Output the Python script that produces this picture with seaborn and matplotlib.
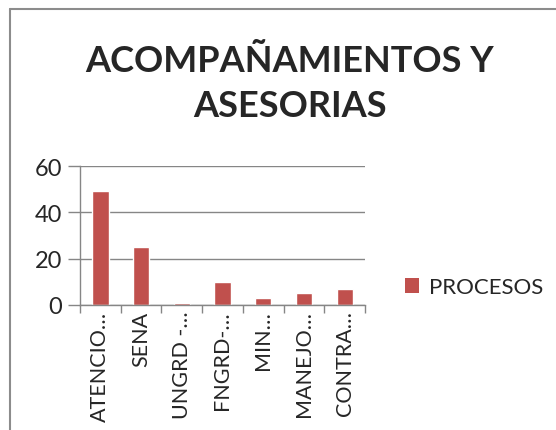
import matplotlib
matplotlib.use("Agg")
import matplotlib.pyplot as plt
import seaborn as sns
import pandas as pd
from matplotlib.patches import Patch
from matplotlib.lines import Line2D

categories = ["ATENCIO…", "SENA", "UNGRD -…", "FNGRD-…", "MIN…", "MANEJO…", "CONTRA…"]
values = [49, 25, 1, 10, 3, 5, 7]
series_name = "PROCESOS"
title = "ACOMPAÑAMIENTOS Y\nASESORIAS"
yticks = [0, 20, 40, 60]

sns.set_theme(style="white")
plt.rcParams['font.family'] = ['Lato', 'DejaVu Sans']

df = pd.DataFrame({"cat": categories, "val": values})

fig = plt.figure(figsize=(5.56, 4.31), dpi=100)
ax = fig.add_axes([80/556, 1-306/431, 285/556, (306-167)/431])
sns.barplot(data=df, x="cat", y="val", color="#C0504D", width=0.4, saturation=1, ax=ax)

grid_c = "#868686"
ax.set_ylim(0, 60)
ax.set_xlim(-0.5, len(categories) - 0.5)
ax.set_yticks(yticks)
ax.yaxis.grid(True, color=grid_c, linewidth=1)
ax.set_axisbelow(True)
for s in ["top", "right"]:
    ax.spines[s].set_visible(False)
for s in ["left", "bottom"]:
    ax.spines[s].set_color(grid_c)
    ax.spines[s].set_linewidth(1)

ax.set_xticks([i - 0.5 for i in range(len(categories) + 1)])
ax.set_xticklabels([])
ax.set_xticks(range(len(categories)), minor=True)
ax.set_xticklabels(categories, minor=True, rotation=90, fontsize=15.5)
ax.tick_params(axis="x", which="major", length=6, color=grid_c, width=1, direction="out", bottom=True)
ax.tick_params(axis="x", which="minor", length=0, pad=4)
ax.tick_params(axis="y", length=9, color=grid_c, width=1, direction="out", left=True, labelsize=17, pad=4)
ax.set_xlabel("")
ax.set_ylabel("")

fig.text(290/556, 1-84/431, title, ha="center", va="center", fontsize=26, fontweight="bold",
         linespacing=1.45)

handles = [Patch(facecolor="#C0504D", edgecolor="none", label=series_name)]
fig.legend(handles=handles, loc="center left", bbox_to_anchor=(398/556, 1-288/431),
           frameon=False, fontsize=16, handlelength=0.65, handleheight=0.65, handletextpad=0.45,
           borderaxespad=0, borderpad=0.3)

# chart border (top and left edges visible)
fig.add_artist(Line2D([10/556, 10/556], [0, 1-10/431], transform=fig.transFigure, color="#8c8c8c", linewidth=1.5))
fig.add_artist(Line2D([10/556, 1], [1-10/431, 1-10/431], transform=fig.transFigure, color="#8c8c8c", linewidth=1.5))

fig.savefig("out.png", dpi=100)
